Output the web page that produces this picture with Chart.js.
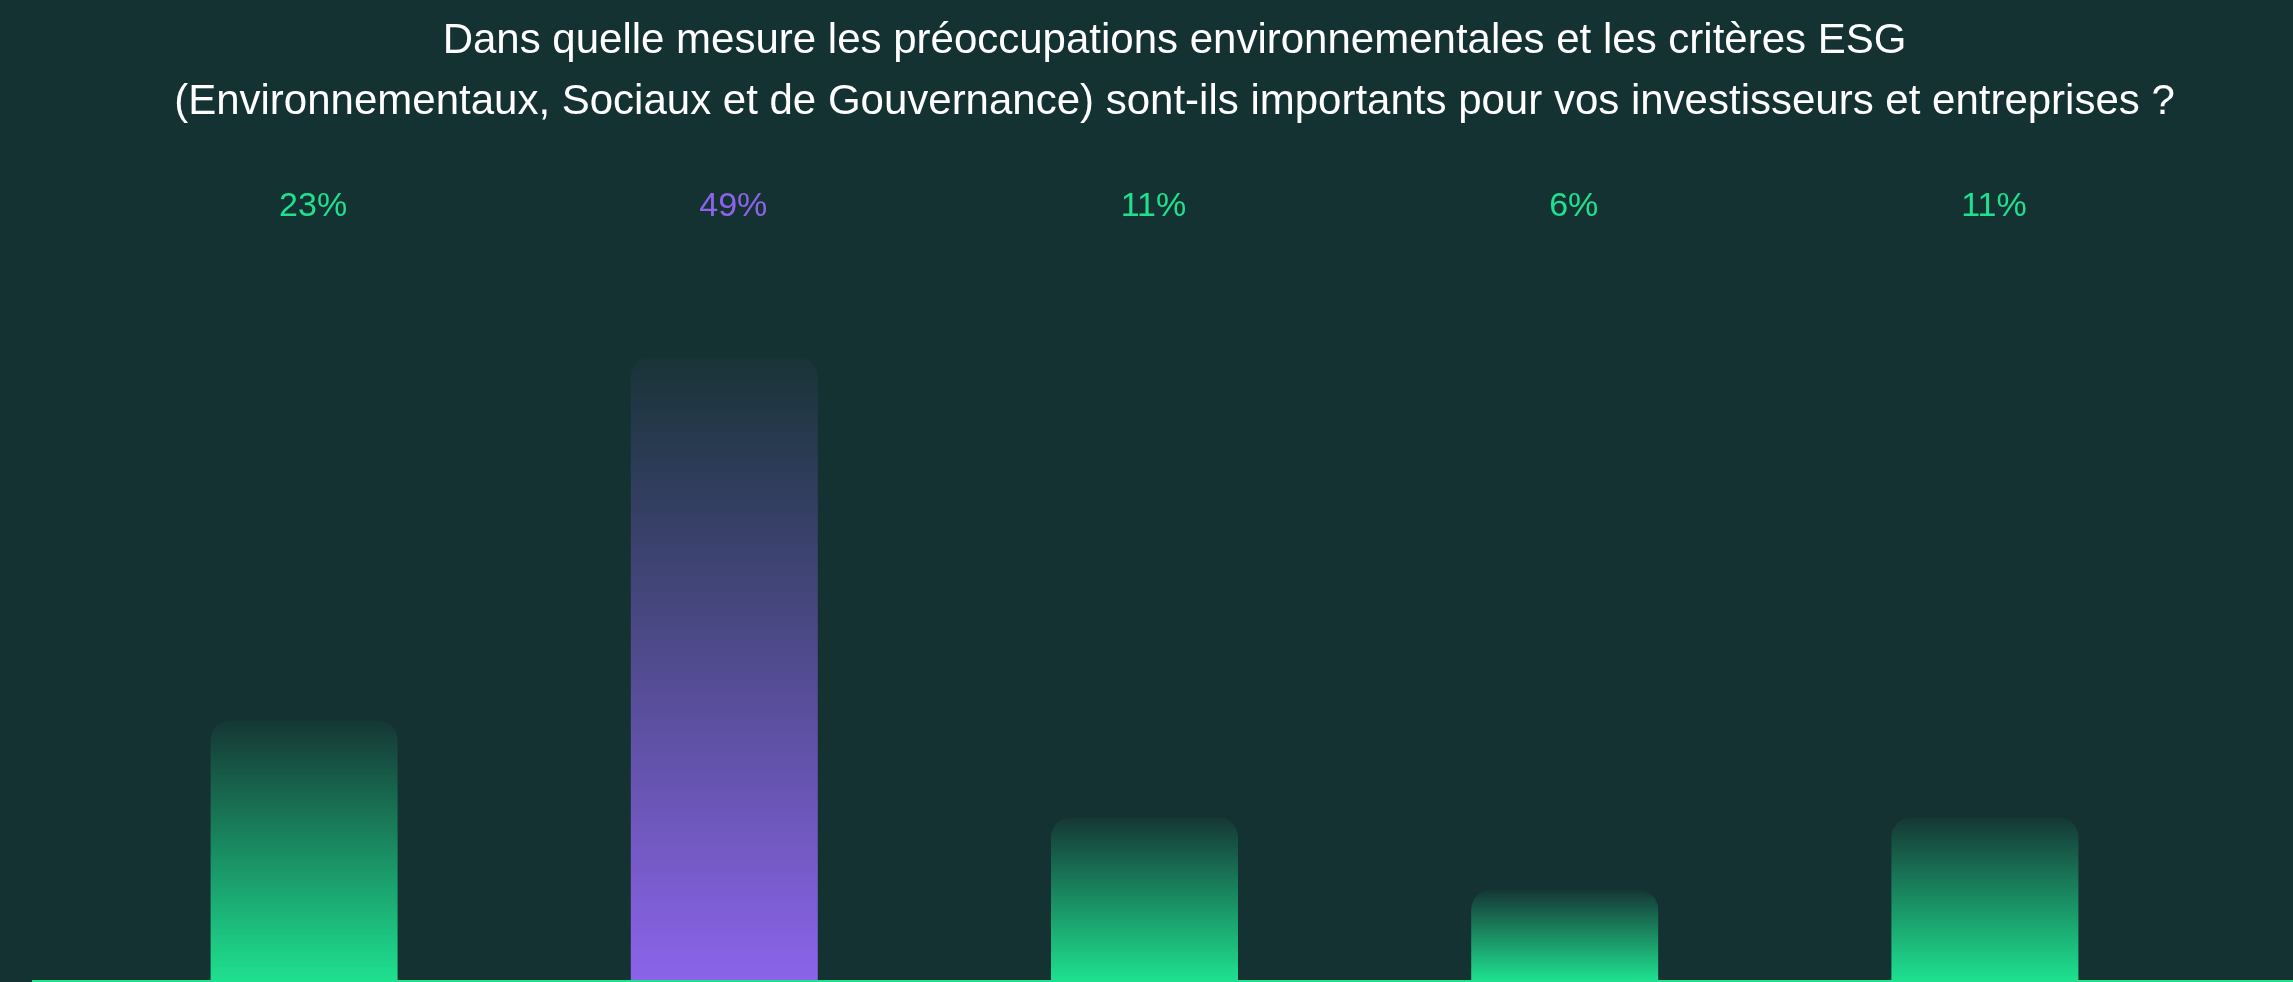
<!DOCTYPE html>
<html lang="fr">
<head>
  <meta charset="UTF-8">
  <title>Préoccupations environnementales et critères ESG</title>
  <script src="https://cdn.jsdelivr.net/npm/chart.js"></script>
  <style>
    body { margin: 0; background: #153232; }
    .wrap { width: 2293px; height: 982px; position: relative; }
  </style>
</head>
<body>
  <div class="wrap">
    <canvas id="esgChart"></canvas>
  </div>

  <script>
    // categories have no visible label in the picture, kept for tooltips
    const categories = ['Très important', 'Important', 'Moyennement important', 'Peu important', 'Pas important'];
    // bar heights (same unit as the labels)
    const barValues = [20.4, 49, 12.8, 7.1, 12.8];
    // percentages printed above the bars
    const valueLabels = ['23%', '49%', '11%', '6%', '11%'];
    const barColors = ['#1fe08f', '#8c64ea', '#1fe08f', '#1fe08f', '#1fe08f'];

    const titleLines = [
      'Dans quelle mesure les préoccupations environnementales et les critères ESG',
      '(Environnementaux, Sociaux et de Gouvernance) sont-ils importants pour vos investisseurs et entreprises ?'
    ];

    const FONT = '"Liberation Sans", Arial, sans-serif';

    function hexToRgba(hex, a) {
      const n = parseInt(hex.slice(1), 16);
      return `rgba(${(n >> 16) & 255}, ${(n >> 8) & 255}, ${n & 255}, ${a})`;
    }

    // each bar fades from its own top to full colour at the base
    function barGradient(context) {
      const chart = context.chart;
      const yScale = chart.scales.y;
      if (!chart.chartArea || !yScale) return barColors[context.dataIndex];
      const top = yScale.getPixelForValue(barValues[context.dataIndex]);
      const bottom = yScale.getPixelForValue(0);
      const col = barColors[context.dataIndex];
      const g = chart.ctx.createLinearGradient(0, top, 0, bottom);
      g.addColorStop(0, hexToRgba(col, 0.03));
      g.addColorStop(1, hexToRgba(col, 1));
      return g;
    }

    // title is centred a bit right of the canvas middle in the original
    const titlePlugin = {
      id: 'titleText',
      afterDraw(chart) {
        const ctx = chart.ctx;
        ctx.save();
        ctx.font = '42px ' + FONT;
        ctx.fillStyle = '#ffffff';
        ctx.textAlign = 'center';
        ctx.textBaseline = 'middle';
        titleLines.forEach((line, i) => {
          ctx.fillText(line, chart.width / 2 + 28, 41 + i * 61);
        });
        ctx.restore();
      }
    };

    const topLabels = {
      id: 'topLabels',
      afterDatasetsDraw(chart) {
        const ctx = chart.ctx;
        const xScale = chart.scales.x;
        ctx.save();
        ctx.font = '34px ' + FONT;
        ctx.textAlign = 'center';
        ctx.textBaseline = 'middle';
        valueLabels.forEach((txt, i) => {
          ctx.fillStyle = barColors[i];
          ctx.fillText(txt, xScale.getPixelForValue(i) + 9, chart.chartArea.top - 74);
        });
        ctx.restore();
      }
    };

    const baseLine = {
      id: 'baseLine',
      afterDatasetsDraw(chart) {
        const ctx = chart.ctx;
        ctx.save();
        ctx.fillStyle = '#1fe08f';
        ctx.fillRect(32, chart.chartArea.bottom, chart.width - 32, 2);
        ctx.restore();
      }
    };

    new Chart(document.getElementById('esgChart'), {
      type: 'bar',
      plugins: [titlePlugin, topLabels, baseLine],
      data: {
        labels: categories,
        datasets: [{
          data: barValues,
          backgroundColor: barGradient,
          borderWidth: 0,
          borderRadius: { topLeft: 20, topRight: 20 },
          borderSkipped: 'bottom',
          categoryPercentage: 1,
          barPercentage: 0.445
        }]
      },
      options: {
        responsive: true,
        maintainAspectRatio: false,
        animation: false,
        layout: { padding: { left: 94, right: 98, top: 281, bottom: 2 } },
        plugins: {
          legend: { display: false },
          tooltip: { enabled: false },
          title: { display: false }
        },
        scales: {
          x: { display: false },
          y: { display: false, min: 0, max: 55 }
        }
      }
    });
  </script>
</body>
</html>
